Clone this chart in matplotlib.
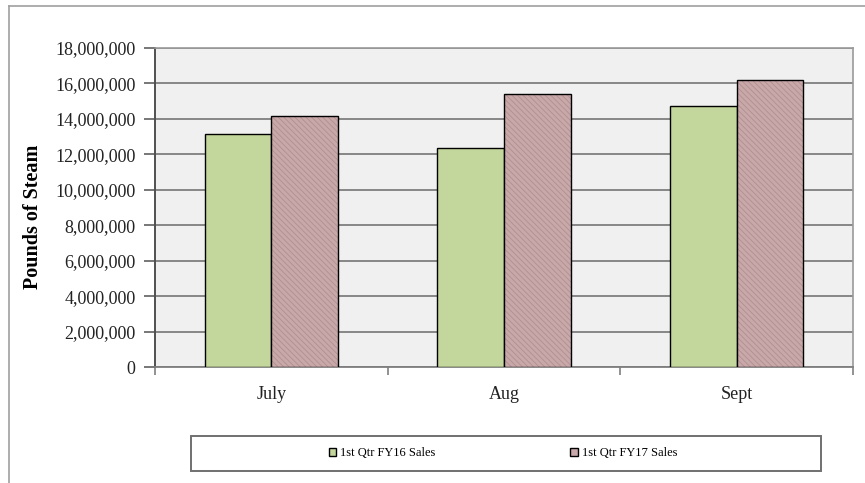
import matplotlib
matplotlib.use("Agg")
import matplotlib.pyplot as plt
from matplotlib.patches import Patch, Rectangle
from matplotlib.lines import Line2D
from matplotlib.ticker import FuncFormatter, FixedLocator
import numpy as np

# data
months = ["July", "Aug", "Sept"]
fy16 = [13150000, 12380000, 14720000]
fy17 = [14190000, 15430000, 16190000]
series_names = ["1st Qtr FY16 Sales", "1st Qtr FY17 Sales"]

green = "#c3d69b"
pink = "#c9a8a9"

plt.rcParams['font.family'] = ['Liberation Serif', 'DejaVu Serif']
plt.rcParams['hatch.linewidth'] = 0.6

W, H = 865, 483
fig = plt.figure(figsize=(8.65, 4.83), dpi=100)
fig.patch.set_facecolor("white")

# outer chart frame (left + top visible)
fig.add_artist(Line2D([9 / W, 9 / W], [0, 1 - 6 / H], color="#a0a0a0", lw=1.2))
fig.add_artist(Line2D([9 / W, 1], [1 - 6 / H, 1 - 6 / H], color="#a0a0a0", lw=1.2))

ax = fig.add_axes([155 / W, 1 - 367 / H, (853 - 155) / W, (367 - 48) / H])
ax.set_facecolor("#f0f0f0")

x = np.arange(len(months))
w = 0.286
ax.bar(x - w / 2, fy16, w, color=green, edgecolor="black", linewidth=1.0, zorder=3)
# hatched fill then black outline
ax.bar(x + w / 2, fy17, w, color=pink, edgecolor="#b08f91", hatch="\\\\\\\\\\\\", linewidth=0, zorder=3)
ax.bar(x + w / 2, fy17, w, fill=False, edgecolor="black", linewidth=1.0, zorder=4)

ax.set_xlim(-0.5, 2.5)
ax.set_ylim(0, 18000000)
ax.set_yticks(np.arange(0, 18000001, 2000000))
ax.yaxis.set_major_formatter(FuncFormatter(lambda v, p: f"{int(v):,}"))
ax.yaxis.grid(True, color="#7f7f7f", linewidth=1.3, zorder=0)
ax.set_axisbelow(True)

ax.set_xticks(x)
ax.set_xticklabels(months)
ax.xaxis.set_minor_locator(FixedLocator([-0.5, 0.5, 1.5, 2.5]))
ax.tick_params(axis="x", which="major", length=0, pad=14, labelsize=13, labelcolor="#222222")
ax.tick_params(axis="x", which="minor", length=6, color="#7f7f7f", width=1.2)
ax.tick_params(axis="y", length=8, color="#606060", width=1.2, pad=6, labelsize=13, labelcolor="#222222")

for side in ["top", "right"]:
    ax.spines[side].set_color("#9a9a9a")
    ax.spines[side].set_linewidth(1.2)
ax.spines["left"].set_color("#505050")
ax.spines["left"].set_linewidth(1.4)
ax.spines["bottom"].set_color("#7f7f7f")
ax.spines["bottom"].set_linewidth(1.3)

fig.text(33 / W, 1 - 217 / H, "Pounds of Steam", rotation=90, ha="center", va="center",
         fontsize=14.5, fontweight="bold")

# legend box
fig.add_artist(Rectangle((191 / W, 1 - 471 / H), (821 - 191) / W, (471 - 436) / H,
                         transform=fig.transFigure, facecolor="white", edgecolor="#707070", lw=1.4))
handles = [Patch(facecolor=green, edgecolor="black", linewidth=1.0),
           Patch(facecolor=pink, edgecolor="black", linewidth=1.0)]
fig.legend(handles, series_names, loc="center", bbox_to_anchor=(503 / W, 1 - 453.5 / H),
           ncol=2, frameon=False, fontsize=9, handlelength=0.6, handleheight=0.6,
           handletextpad=0.3, columnspacing=10.8)

fig.savefig("out.png", dpi=100)
